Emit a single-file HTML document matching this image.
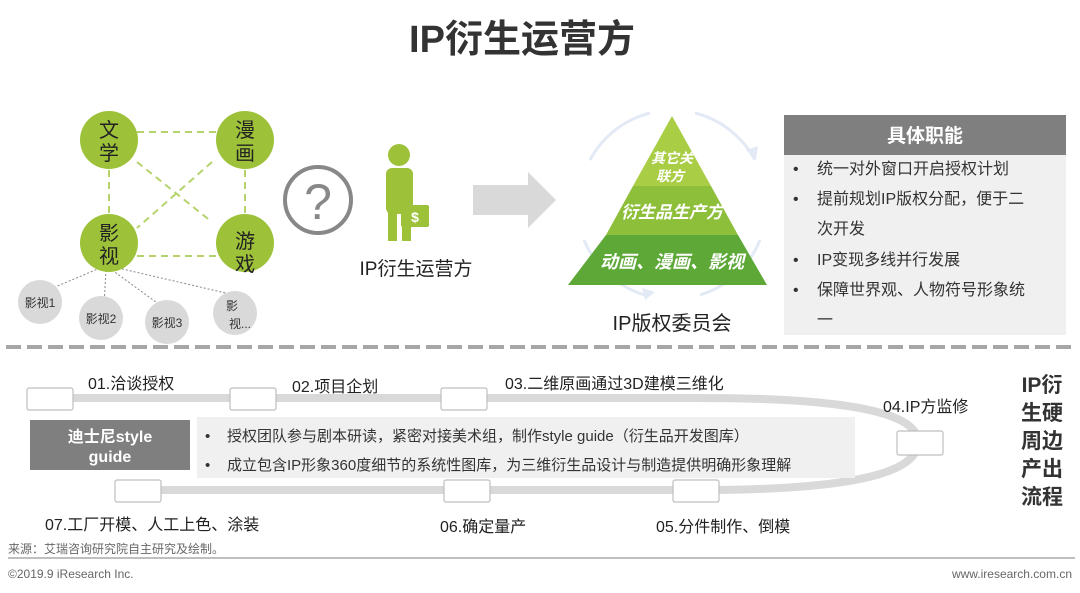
<!DOCTYPE html>
<html><head><meta charset="utf-8"><style>
body{margin:0;background:#fff;}
svg{display:block;font-family:"Liberation Sans","Noto Sans CJK SC",sans-serif;}
</style></head><body>
<svg width="1080" height="593" viewBox="0 0 1080 593" xmlns="http://www.w3.org/2000/svg">
<text x="522" y="52" font-size="38" font-weight="bold" text-anchor="middle" fill="#333">IP衍生运营方</text>
<!-- network -->
<g stroke="#b5d36a" stroke-width="2" stroke-dasharray="7,5" fill="none">
<line x1="137" y1="132" x2="217" y2="132"/>
<line x1="137" y1="256" x2="217" y2="256"/>
<line x1="109" y1="170" x2="109" y2="213"/>
<line x1="245" y1="170" x2="245" y2="213"/>
<line x1="137" y1="162" x2="212" y2="222"/>
<line x1="212" y1="162" x2="137" y2="228"/>
</g>
<g stroke="#888" stroke-width="1" stroke-dasharray="2,2" fill="none">
<line x1="100" y1="268" x2="48" y2="290"/>
<line x1="106" y1="270" x2="104" y2="305"/>
<line x1="112" y1="270" x2="160" y2="305"/>
<line x1="118" y1="268" x2="230" y2="294"/>
</g>
<g fill="#9dc23a">
<circle cx="109" cy="140" r="29"/><circle cx="245" cy="140" r="29"/>
<circle cx="109" cy="243" r="29"/><circle cx="245" cy="243" r="29"/>
</g>
<g font-size="20" fill="#222" text-anchor="middle">
<text x="109" y="137">文</text><text x="109" y="160">学</text>
<text x="245" y="137">漫</text><text x="245" y="160">画</text>
<text x="109" y="240">影</text><text x="109" y="263">视</text>
<text x="245" y="248">游</text><text x="245" y="271">戏</text>
</g>
<g fill="#d9d9d9">
<circle cx="40" cy="302" r="22"/><circle cx="101" cy="318" r="22"/>
<circle cx="167" cy="322" r="22"/><circle cx="235" cy="313" r="22"/>
</g>
<g font-size="12" fill="#333" text-anchor="middle">
<text x="40" y="307">影视1</text><text x="101" y="323">影视2</text>
<text x="167" y="327">影视3</text><text x="232" y="310">影</text><text x="240" y="328">视...</text>
</g>
<!-- question -->
<circle cx="318" cy="200" r="33" fill="none" stroke="#888" stroke-width="4"/>
<text x="318" y="219" font-size="50" fill="#888" text-anchor="middle">?</text>
<!-- person -->
<g fill="#9dc23a">
<circle cx="399" cy="155" r="11"/>
<rect x="386" y="168" width="27" height="46" rx="6"/>
<rect x="388" y="205" width="9" height="36"/><rect x="402" y="205" width="9" height="36"/>
<rect x="401" y="205" width="28" height="22" rx="2"/>
</g>
<text x="415" y="222" font-size="14" font-weight="bold" fill="#fff" text-anchor="middle">$</text>
<text x="416" y="275" font-size="19" fill="#222" text-anchor="middle">IP衍生运营方</text>
<!-- arrow -->
<polygon points="473,185 528,185 528,172 556,200 528,228 528,215 473,215" fill="#d9d9d9"/>
<!-- pyramid -->
<g fill="none" stroke="#e3eaf5" stroke-width="3">
<path d="M590 160 A94 94 0 0 1 650 113"/>
<path d="M695 113 A94 94 0 0 1 755 160"/>
<path d="M760 240 A94 94 0 0 1 700 295"/>
<path d="M645 295 A94 94 0 0 1 584 240"/>
</g>
<g fill="#e3eaf5">
<polygon points="746,150 758,146 756,160"/>
<polygon points="655,292 645,300 642,288"/>
</g>
<polygon points="672,116 711,186 633,186" fill="#a9cd45"/>
<polygon points="633,186 711,186 738,235 606,235" fill="#8dbf3b"/>
<polygon points="606,235 738,235 767,285 568,285" fill="#5ea838"/>
<g fill="#fff" font-weight="bold" font-style="italic" text-anchor="middle">
<text x="672" y="163" font-size="14">其它关</text><text x="670" y="181" font-size="14">联方</text>
<text x="672" y="218" font-size="17">衍生品生产方</text>
<text x="672" y="268" font-size="18">动画、漫画、影视</text>
</g>
<text x="672" y="330" font-size="20" fill="#222" text-anchor="middle">IP版权委员会</text>
<!-- right box -->
<rect x="784" y="115" width="282" height="220" fill="#f0f0f0"/>
<rect x="784" y="115" width="282" height="40" fill="#7f7f7f"/>
<text x="925" y="142" font-size="19" font-weight="bold" fill="#fff" text-anchor="middle">具体职能</text>
<g font-size="16" fill="#333">
<text x="793" y="174">•</text><text x="817" y="174">统一对外窗口开启授权计划</text>
<text x="793" y="204">•</text><text x="817" y="204">提前规划IP版权分配，便于二</text>
<text x="817" y="234">次开发</text>
<text x="793" y="265">•</text><text x="817" y="265">IP变现多线并行发展</text>
<text x="793" y="295">•</text><text x="817" y="295">保障世界观、人物符号形象统</text>
<text x="817" y="325">一</text>
</g>
<line x1="6" y1="347" x2="1076" y2="347" stroke="#a6a6a6" stroke-width="4" stroke-dasharray="15,6"/>
<!-- track -->
<path d="M50 398 H700 C880 398 918 420 918 442 C918 466 880 490 700 490 H130" fill="none" stroke="#d9d9d9" stroke-width="8"/>
<rect x="197" y="417" width="658" height="61" fill="#f0f0f0"/>
<rect x="30" y="420" width="160" height="50" fill="#7f7f7f"/>
<text x="110" y="442" font-size="16" font-weight="bold" fill="#fff" text-anchor="middle">迪士尼style</text>
<text x="110" y="462" font-size="16" font-weight="bold" fill="#fff" text-anchor="middle">guide</text>
<g font-size="15" fill="#333">
<text x="205" y="441">•</text><text x="227" y="441">授权团队参与剧本研读，紧密对接美术组，制作style guide（衍生品开发图库）</text>
<text x="205" y="470">•</text><text x="227" y="470">成立包含IP形象360度细节的系统性图库，为三维衍生品设计与制造提供明确形象理解</text>
</g>
<g fill="#fff" stroke="#bfbfbf" stroke-width="1.2">
<rect x="27" y="388" width="46" height="22" rx="2"/>
<rect x="230" y="388" width="46" height="22" rx="2"/>
<rect x="441" y="388" width="46" height="22" rx="2"/>
<rect x="897" y="431" width="46" height="24" rx="2"/>
<rect x="115" y="480" width="46" height="22" rx="2"/>
<rect x="444" y="480" width="46" height="22" rx="2"/>
<rect x="673" y="480" width="46" height="22" rx="2"/>
</g>
<g font-size="16" fill="#222">
<text x="88" y="389">01.洽谈授权</text>
<text x="292" y="392">02.项目企划</text>
<text x="505" y="389">03.二维原画通过3D建模三维化</text>
<text x="883" y="412">04.IP方监修</text>
<text x="45" y="530">07.工厂开模、人工上色、涂装</text>
<text x="440" y="532">06.确定量产</text>
<text x="656" y="532">05.分件制作、倒模</text>
</g>
<g font-size="21" font-weight="bold" fill="#333" text-anchor="middle">
<text x="1042" y="392">IP衍</text><text x="1042" y="420">生硬</text><text x="1042" y="448">周边</text>
<text x="1042" y="476">产出</text><text x="1042" y="504">流程</text>
</g>
<text x="8" y="553" font-size="12" fill="#666">来源：艾瑞咨询研究院自主研究及绘制。</text>
<line x1="8" y1="558" x2="1075" y2="558" stroke="#999" stroke-width="1.2"/>
<text x="8" y="578" font-size="12" fill="#666">©2019.9 iResearch Inc.</text>
<text x="1072" y="578" font-size="12" fill="#666" text-anchor="end">www.iresearch.com.cn</text>
</svg>
</body></html>
